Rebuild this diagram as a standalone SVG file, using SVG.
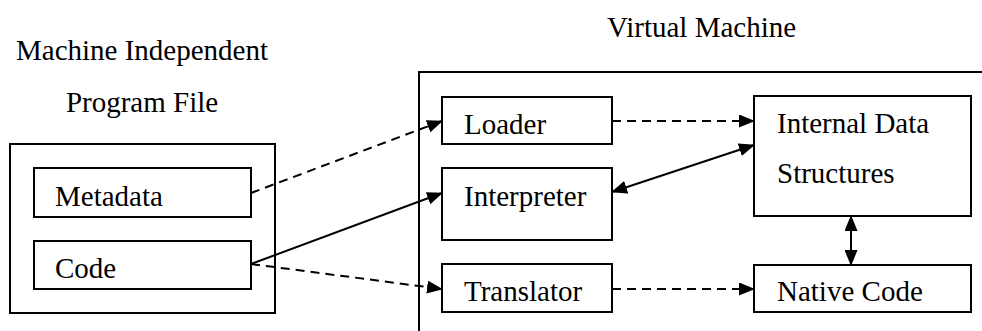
<svg xmlns="http://www.w3.org/2000/svg" width="982" height="331" viewBox="0 0 982 331">
<style>
  .box { fill: none; stroke: #000; stroke-width: 2; }
  .t { font-family: "Liberation Serif", "Times New Roman", serif; font-size: 29px; fill: #000; }
  .ln { fill: none; stroke: #000; stroke-width: 2; }
  .dash { stroke-dasharray: 9 6; }
</style>
<defs>
  <marker id="ah" viewBox="0 0 16 13" refX="15" refY="6.5" markerWidth="16" markerHeight="13" markerUnits="userSpaceOnUse" orient="auto-start-reverse">
    <path d="M0,0 L16,6.5 L0,13 Z" fill="#000"/>
  </marker>
</defs>
<rect width="982" height="331" fill="#fff"/>
<g id="title-left">
  <text class="t" x="142" y="60" text-anchor="middle">Machine Independent</text>
  <text class="t" x="142" y="112" text-anchor="middle">Program File</text>
</g>
<g id="title-right">
  <text class="t" x="607" y="37">Virtual Machine</text>
</g>
<g id="program-file">
  <rect class="box" x="10" y="144" width="265" height="169"/>
</g>
<g id="metadata">
  <rect class="box" x="34" y="168" width="217" height="49"/>
  <text class="t" x="55" y="206">Metadata</text>
</g>
<g id="code">
  <rect class="box" x="34" y="241" width="217" height="48"/>
  <text class="t" x="55" y="278">Code</text>
</g>
<g id="virtual-machine">
  <rect class="box" x="419" y="72" width="600" height="300"/>
</g>
<g id="loader">
  <rect class="box" x="442" y="97" width="170" height="47"/>
  <text class="t" x="464" y="134">Loader</text>
</g>
<g id="interpreter">
  <rect class="box" x="442" y="168" width="170" height="72"/>
  <text class="t" x="464" y="206">Interpreter</text>
</g>
<g id="translator">
  <rect class="box" x="442" y="264" width="170" height="48"/>
  <text class="t" x="464" y="301">Translator</text>
</g>
<g id="internal-data">
  <rect class="box" x="754" y="96" width="217" height="120"/>
  <text class="t" x="777" y="133">Internal Data</text>
  <text class="t" x="777" y="183">Structures</text>
</g>
<g id="native-code">
  <rect class="box" x="754" y="265" width="217" height="47"/>
  <text class="t" x="777" y="301">Native Code</text>
</g>
<g id="connectors">
  <line class="ln dash" x1="251" y1="193" x2="442" y2="121" marker-end="url(#ah)"/>
  <line class="ln" x1="251" y1="264" x2="442" y2="193" marker-end="url(#ah)"/>
  <line class="ln dash" x1="251" y1="264" x2="442" y2="289" marker-end="url(#ah)"/>
  <line class="ln dash" x1="612" y1="121" x2="754" y2="121" marker-end="url(#ah)"/>
  <line class="ln dash" x1="612" y1="289" x2="754" y2="289" marker-end="url(#ah)"/>
  <line class="ln" x1="612" y1="192" x2="754" y2="145" marker-start="url(#ah)" marker-end="url(#ah)"/>
  <line class="ln" x1="851" y1="216" x2="851" y2="265" marker-start="url(#ah)" marker-end="url(#ah)"/>
</g>
</svg>
